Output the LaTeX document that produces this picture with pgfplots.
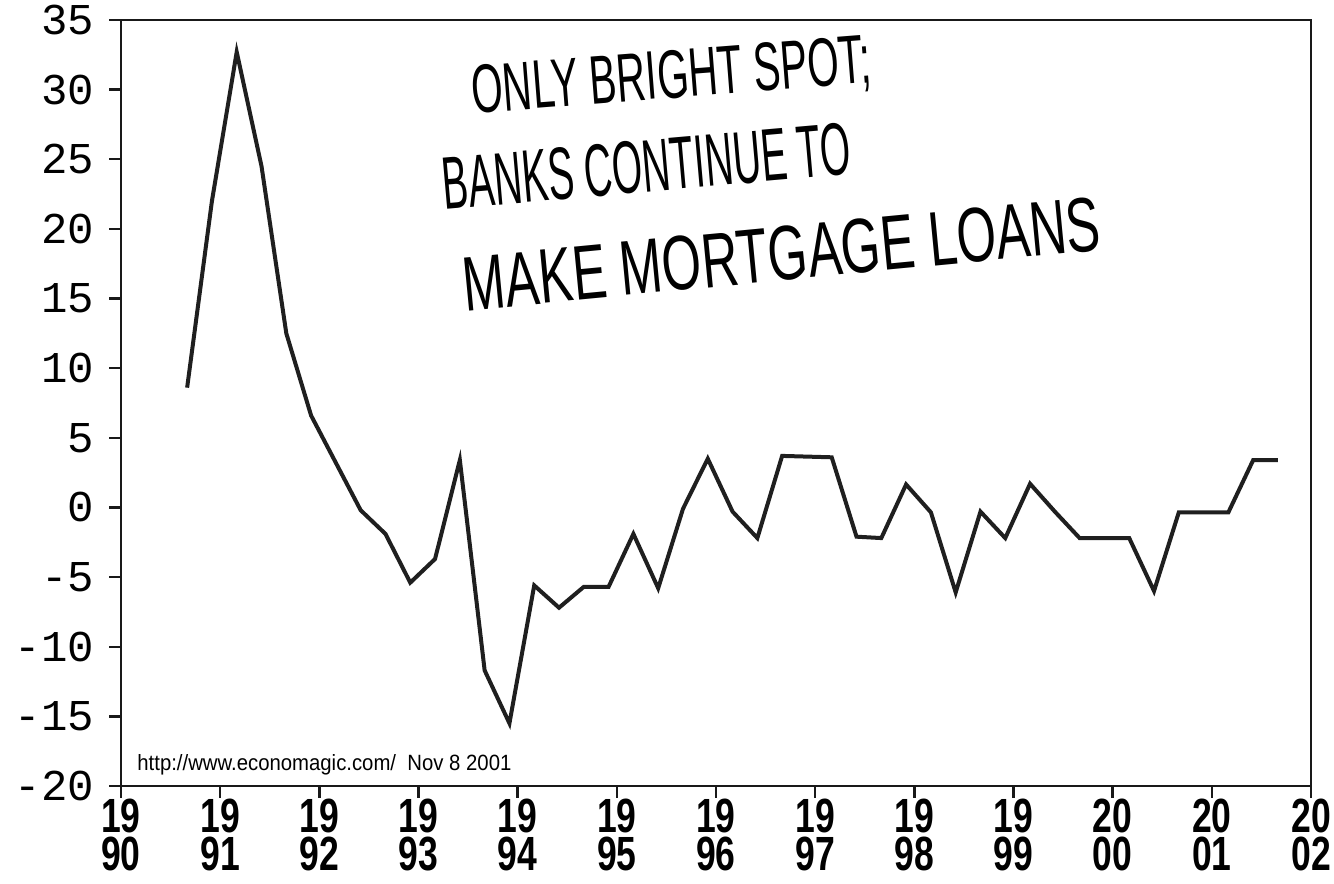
\documentclass[border=0pt]{standalone}
\usepackage{pgfplots}
\pgfplotsset{compat=1.18}
\usepackage{graphicx}
\usepackage{fontspec}
\setmainfont{Liberation Sans}
\newfontfamily\monofont{Liberation Mono}
\newcommand\yr[2]{\scalebox{0.74}[1]{\vbox{\baselineskip=19pt\lineskiplimit=-20pt\hbox{#1}\hbox{#2}}}}
\pgfplotstableread{
year value
1990.667 8.6
1990.917 22.0
1991.167 32.7
1991.417 24.5
1991.667 12.5
1991.917 6.6
1992.167 3.2
1992.417 -0.2
1992.667 -1.9
1992.917 -5.4
1993.167 -3.7
1993.417 3.4
1993.667 -11.7
1993.917 -15.5
1994.167 -5.6
1994.417 -7.2
1994.667 -5.7
1994.917 -5.7
1995.167 -1.9
1995.417 -5.8
1995.667 -0.1
1995.917 3.5
1996.167 -0.3
1996.417 -2.2
1996.667 3.7
1996.917 3.65
1997.167 3.6
1997.417 -2.1
1997.667 -2.2
1997.917 1.65
1998.167 -0.35
1998.417 -6.1
1998.667 -0.3
1998.917 -2.2
1999.167 1.7
1999.417 -0.3
1999.667 -2.2
1999.917 -2.2
2000.167 -2.2
2000.417 -6.0
2000.667 -0.35
2000.917 -0.35
2001.167 -0.35
2001.417 3.4
2001.667 3.4
}\datatable
\begin{document}
\begin{tikzpicture}
\begin{axis}[
  name=ax,
  scale only axis,
  width=595pt, height=383pt,
  xmin=1990, xmax=2002,
  ymin=-20, ymax=35,
  axis line style={line width=1.2pt, black!90},
  xtick={1990,1991,...,2002},
  xticklabels={\yr{19}{90},\yr{19}{91},\yr{19}{92},\yr{19}{93},\yr{19}{94},\yr{19}{95},\yr{19}{96},\yr{19}{97},\yr{19}{98},\yr{19}{99},\yr{20}{00},\yr{20}{01},\yr{20}{02}},
  ytick={-20,-15,...,35},
  yticklabels={-20,-15,-10,-5,0,5,10,15,20,25,30,35},
  xtick pos=left, ytick pos=left,
  tick align=outside,
  major tick length=6pt,
  tick style={line width=1.2pt, black!90},
  xticklabel style={font=\bfseries\fontsize{24}{20}\selectfont, anchor=north, yshift=3pt},
  yticklabel style={font=\monofont\fontsize{22}{22}\selectfont, anchor=east, xshift=-4pt},
  clip=false,
]
\addplot[line width=2pt, black!88, line join=miter] table[x=year, y=value] {\datatable};
\node[anchor=base west, inner sep=0pt] at ([xshift=8pt, yshift=7.5pt]rel axis cs:0,0) {\resizebox{187pt}{8pt}{http://www.economagic.com/\ \ Nov 8 2001}};
\node[rotate=4.5, inner sep=0pt] at (axis cs:1995.55,30.8) {\resizebox{200pt}{24pt}{ONLY BRIGHT SPOT;}};
\node[rotate=5, inner sep=0pt] at (axis cs:1995.3,24.5) {\resizebox{205pt}{26pt}{BANKS CONTINUE TO}};
\node[rotate=5.5, inner sep=0pt] at (axis cs:1996.66,18.2) {\resizebox{320pt}{27pt}{MAKE MORTGAGE LOANS}};
\end{axis}
\pgfresetboundingbox
\useasboundingbox ([xshift=-60.5pt, yshift=-49pt]ax.south west) rectangle ([xshift=11.5pt, yshift=10pt]ax.north east);
\end{tikzpicture}
\end{document}
